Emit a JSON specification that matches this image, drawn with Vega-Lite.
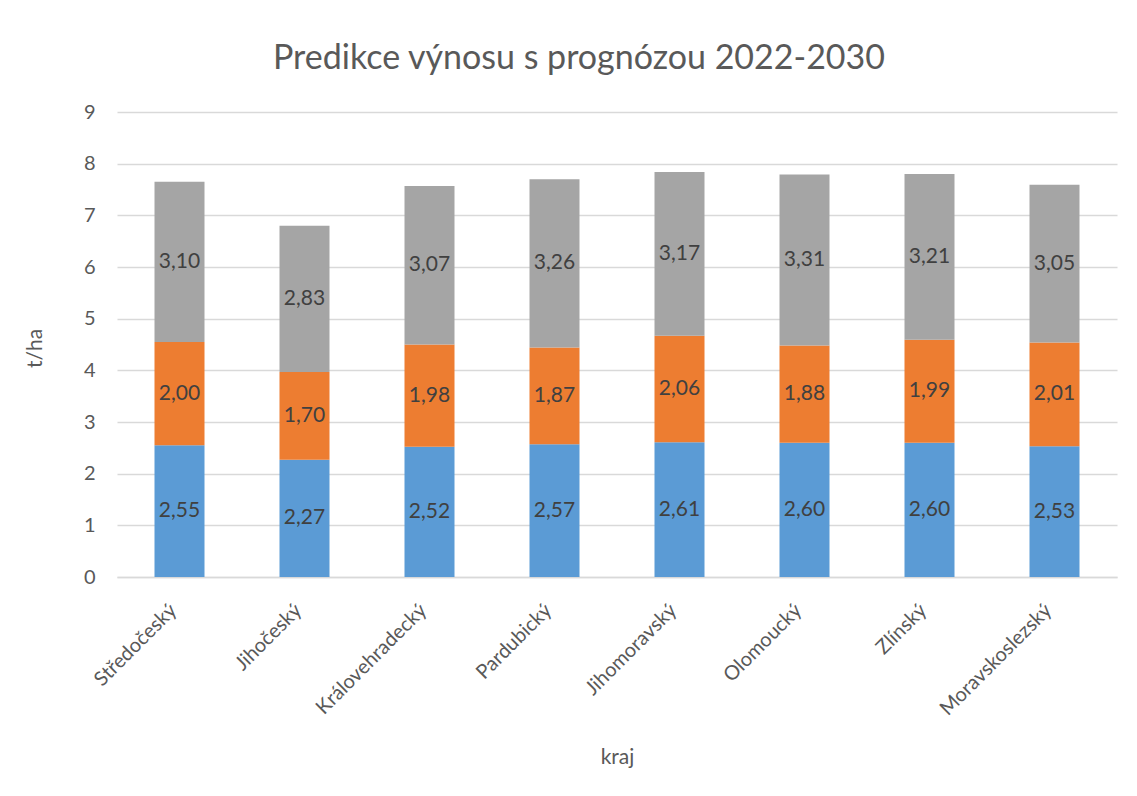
{
  "$schema": "https://vega.github.io/schema/vega-lite/v6.json",
  "width": 1000,
  "height": 465,
  "autosize": {"type": "none"},
  "padding": {"left": 117, "top": 112, "right": 20, "bottom": 219},
  "background": "white",
  "config": {
    "view": {"stroke": null},
    "font": "Lato",
    "locale": {"number": {"decimal": ",", "thousands": " ", "grouping": [3], "currency": ["", " Kč"]}}
  },
  "title": {
    "text": "Predikce výnosu s prognózou 2022-2030",
    "fontSize": 34,
    "fontWeight": "normal",
    "font": "Lato",
    "color": "#595959",
    "anchor": "middle",
    "dx": -38,
    "offset": 26
  },
  "data": {
    "values": [
      {"kraj": "Středočeský", "serie": "Řada1", "poradi": 1, "hodnota": 2.55},
      {"kraj": "Středočeský", "serie": "Řada2", "poradi": 2, "hodnota": 2.00},
      {"kraj": "Středočeský", "serie": "Řada3", "poradi": 3, "hodnota": 3.10},
      {"kraj": "Jihočeský", "serie": "Řada1", "poradi": 1, "hodnota": 2.27},
      {"kraj": "Jihočeský", "serie": "Řada2", "poradi": 2, "hodnota": 1.70},
      {"kraj": "Jihočeský", "serie": "Řada3", "poradi": 3, "hodnota": 2.83},
      {"kraj": "Královehradecký", "serie": "Řada1", "poradi": 1, "hodnota": 2.52},
      {"kraj": "Královehradecký", "serie": "Řada2", "poradi": 2, "hodnota": 1.98},
      {"kraj": "Královehradecký", "serie": "Řada3", "poradi": 3, "hodnota": 3.07},
      {"kraj": "Pardubický", "serie": "Řada1", "poradi": 1, "hodnota": 2.57},
      {"kraj": "Pardubický", "serie": "Řada2", "poradi": 2, "hodnota": 1.87},
      {"kraj": "Pardubický", "serie": "Řada3", "poradi": 3, "hodnota": 3.26},
      {"kraj": "Jihomoravský", "serie": "Řada1", "poradi": 1, "hodnota": 2.61},
      {"kraj": "Jihomoravský", "serie": "Řada2", "poradi": 2, "hodnota": 2.06},
      {"kraj": "Jihomoravský", "serie": "Řada3", "poradi": 3, "hodnota": 3.17},
      {"kraj": "Olomoucký", "serie": "Řada1", "poradi": 1, "hodnota": 2.60},
      {"kraj": "Olomoucký", "serie": "Řada2", "poradi": 2, "hodnota": 1.88},
      {"kraj": "Olomoucký", "serie": "Řada3", "poradi": 3, "hodnota": 3.31},
      {"kraj": "Zlínský", "serie": "Řada1", "poradi": 1, "hodnota": 2.60},
      {"kraj": "Zlínský", "serie": "Řada2", "poradi": 2, "hodnota": 1.99},
      {"kraj": "Zlínský", "serie": "Řada3", "poradi": 3, "hodnota": 3.21},
      {"kraj": "Moravskoslezský", "serie": "Řada1", "poradi": 1, "hodnota": 2.53},
      {"kraj": "Moravskoslezský", "serie": "Řada2", "poradi": 2, "hodnota": 2.01},
      {"kraj": "Moravskoslezský", "serie": "Řada3", "poradi": 3, "hodnota": 3.05}
    ]
  },
  "encoding": {
    "x": {
      "field": "kraj",
      "type": "nominal",
      "sort": null,
      "scale": {"paddingInner": 0.6, "paddingOuter": 0.3},
      "axis": {
        "title": "kraj",
        "titleFontSize": 21,
        "titleFontWeight": "normal",
        "titleColor": "#595959",
        "titleFont": "Lato",
        "titleY": 180,
        "titleBaseline": "middle",
        "labelAngle": -45,
        "labelAlign": "right",
        "labelBaseline": "middle",
        "labelFontSize": 20,
        "labelColor": "#595959",
        "labelPadding": 30,
        "labelOffset": -6,
        "ticks": false,
        "domainColor": "#D9D9D9",
        "domainWidth": 1.5,
        "grid": false
      }
    }
  },
  "layer": [
    {
      "mark": {"type": "bar"},
      "encoding": {
        "y": {
          "field": "hodnota",
          "type": "quantitative",
          "stack": "zero",
          "scale": {"domain": [0, 9], "nice": false},
          "axis": {
            "title": "t/ha",
            "titleFontSize": 21,
            "titleFontWeight": "normal",
            "titleColor": "#595959",
            "titleX": -82,
            "titleY": 236,
            "titleAngle": 270,
            "titleAlign": "center",
            "titleBaseline": "middle",
            "values": [0, 1, 2, 3, 4, 5, 6, 7, 8, 9],
            "format": "d",
            "labelFontSize": 20,
            "labelColor": "#595959",
            "labelPadding": 22,
            "ticks": false,
            "domain": false,
            "grid": true,
            "gridColor": "#D9D9D9",
            "gridWidth": 1.5
          }
        },
        "color": {
          "field": "serie",
          "type": "nominal",
          "scale": {"domain": ["Řada1", "Řada2", "Řada3"], "range": ["#5B9BD5", "#ED7D31", "#A5A5A5"]},
          "legend": null
        },
        "order": {"field": "poradi", "type": "quantitative"}
      }
    },
    {
      "transform": [
        {"window": [{"op": "sum", "field": "hodnota", "as": "kum"}], "groupby": ["kraj"], "sort": [{"field": "poradi"}]},
        {"calculate": "datum.kum - datum.hodnota / 2", "as": "stred"}
      ],
      "mark": {"type": "text", "fontSize": 21, "color": "#404040", "font": "Lato"},
      "encoding": {
        "y": {"field": "stred", "type": "quantitative"},
        "text": {"field": "hodnota", "type": "quantitative", "format": ".2f"}
      }
    }
  ]
}
